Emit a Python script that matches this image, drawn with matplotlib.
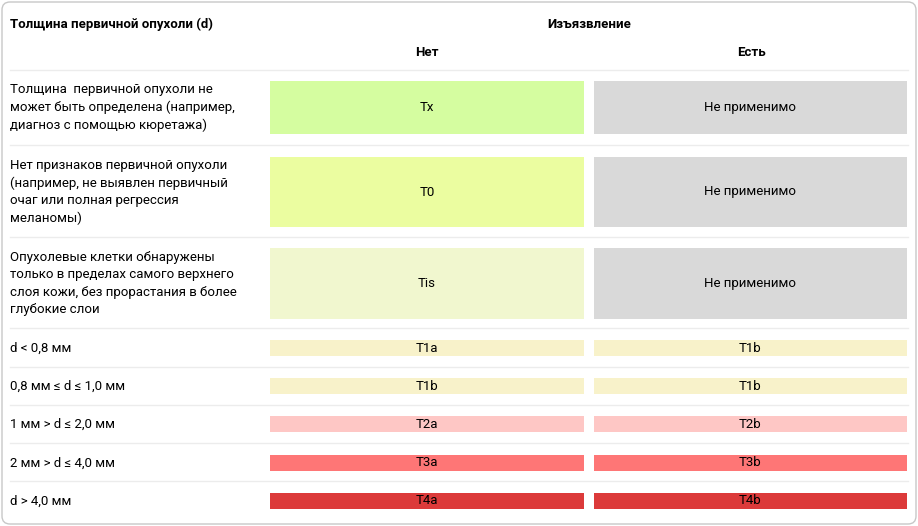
import matplotlib
matplotlib.use("Agg")
import matplotlib.pyplot as plt
from matplotlib.patches import FancyBboxPatch, Rectangle

plt.rcParams["font.family"] = "Roboto"

row_labels = [
    "Толщина  первичной опухоли не\nможет быть определена (например,\nдиагноз с помощью кюретажа)",
    "Нет признаков первичной опухоли\n(например, не выявлен первичный\nочаг или полная регрессия\nмеланомы)",
    "Опухолевые клетки обнаружены\nтолько в пределах самого верхнего\nслоя кожи, без прорастания в более\nглубокие слои",
    "d < 0,8 мм",
    "0,8 мм ≤ d ≤ 1,0 мм",
    "1 мм > d ≤ 2,0 мм",
    "2 мм > d ≤ 4,0 мм",
    "d > 4,0 мм",
]
no_values = ["Tx", "T0", "Tis", "T1a", "T1b", "T2a", "T3a", "T4a"]
yes_values = ["Не применимо", "Не применимо", "Не применимо", "T1b", "T1b", "T2b", "T3b", "T4b"]
no_colors = ["#d5fda0", "#ebfda0", "#f1f7cf", "#f8f2ca", "#f8f2ca", "#fec7c5", "#fe7676", "#dc3a3a"]
yes_colors = ["#d9d9d9", "#d9d9d9", "#d9d9d9", "#f8f2ca", "#f8f2ca", "#fec7c5", "#fe7676", "#dc3a3a"]

# layout (pixels)
row_tops = [81, 157, 248, 340, 378, 416, 455, 493]
row_bots = [134, 227, 319, 356, 394, 432, 471, 509]
seps = [70, 145, 237, 328, 367, 405, 443, 481]

W, H = 918, 526
fig = plt.figure(figsize=(W / 100, H / 100), dpi=100)
ax = fig.add_axes([0, 0, 1, 1])
ax.set_xlim(0, W)
ax.set_ylim(H, 0)
ax.axis("off")

ax.add_patch(FancyBboxPatch((2, 2), W - 4, H - 4, boxstyle="round,pad=0,rounding_size=8",
                            fc="white", ec="#c8c8c8", lw=1))
ax.text(10, 24, "Толщина первичной опухоли (d)", fontsize=9.5, fontweight="bold", va="center")
ax.text(589, 24, "Изъязвление", fontsize=9.5, fontweight="bold", va="center", ha="center")
ax.text(427, 52, "Нет", fontsize=9.5, fontweight="bold", va="center", ha="center")
ax.text(751, 52, "Есть", fontsize=9.5, fontweight="bold", va="center", ha="center")

for s in seps:
    ax.plot([10, 908], [s, s], color="#ececec", lw=1)

for i, lab in enumerate(row_labels):
    t, b = row_tops[i], row_bots[i]
    yc = (t + b) / 2
    ax.text(10, yc, lab, fontsize=9.5, va="center", ha="left", linespacing=1.45)
    ax.add_patch(Rectangle((270, t), 314, b - t, fc=no_colors[i], ec="none"))
    ax.add_patch(Rectangle((594, t), 313, b - t, fc=yes_colors[i], ec="none"))
    ax.text(427, yc, no_values[i], fontsize=9.5, va="center", ha="center")
    ax.text(750, yc, yes_values[i], fontsize=9.5, va="center", ha="center")

fig.savefig("out.png", dpi=100)
